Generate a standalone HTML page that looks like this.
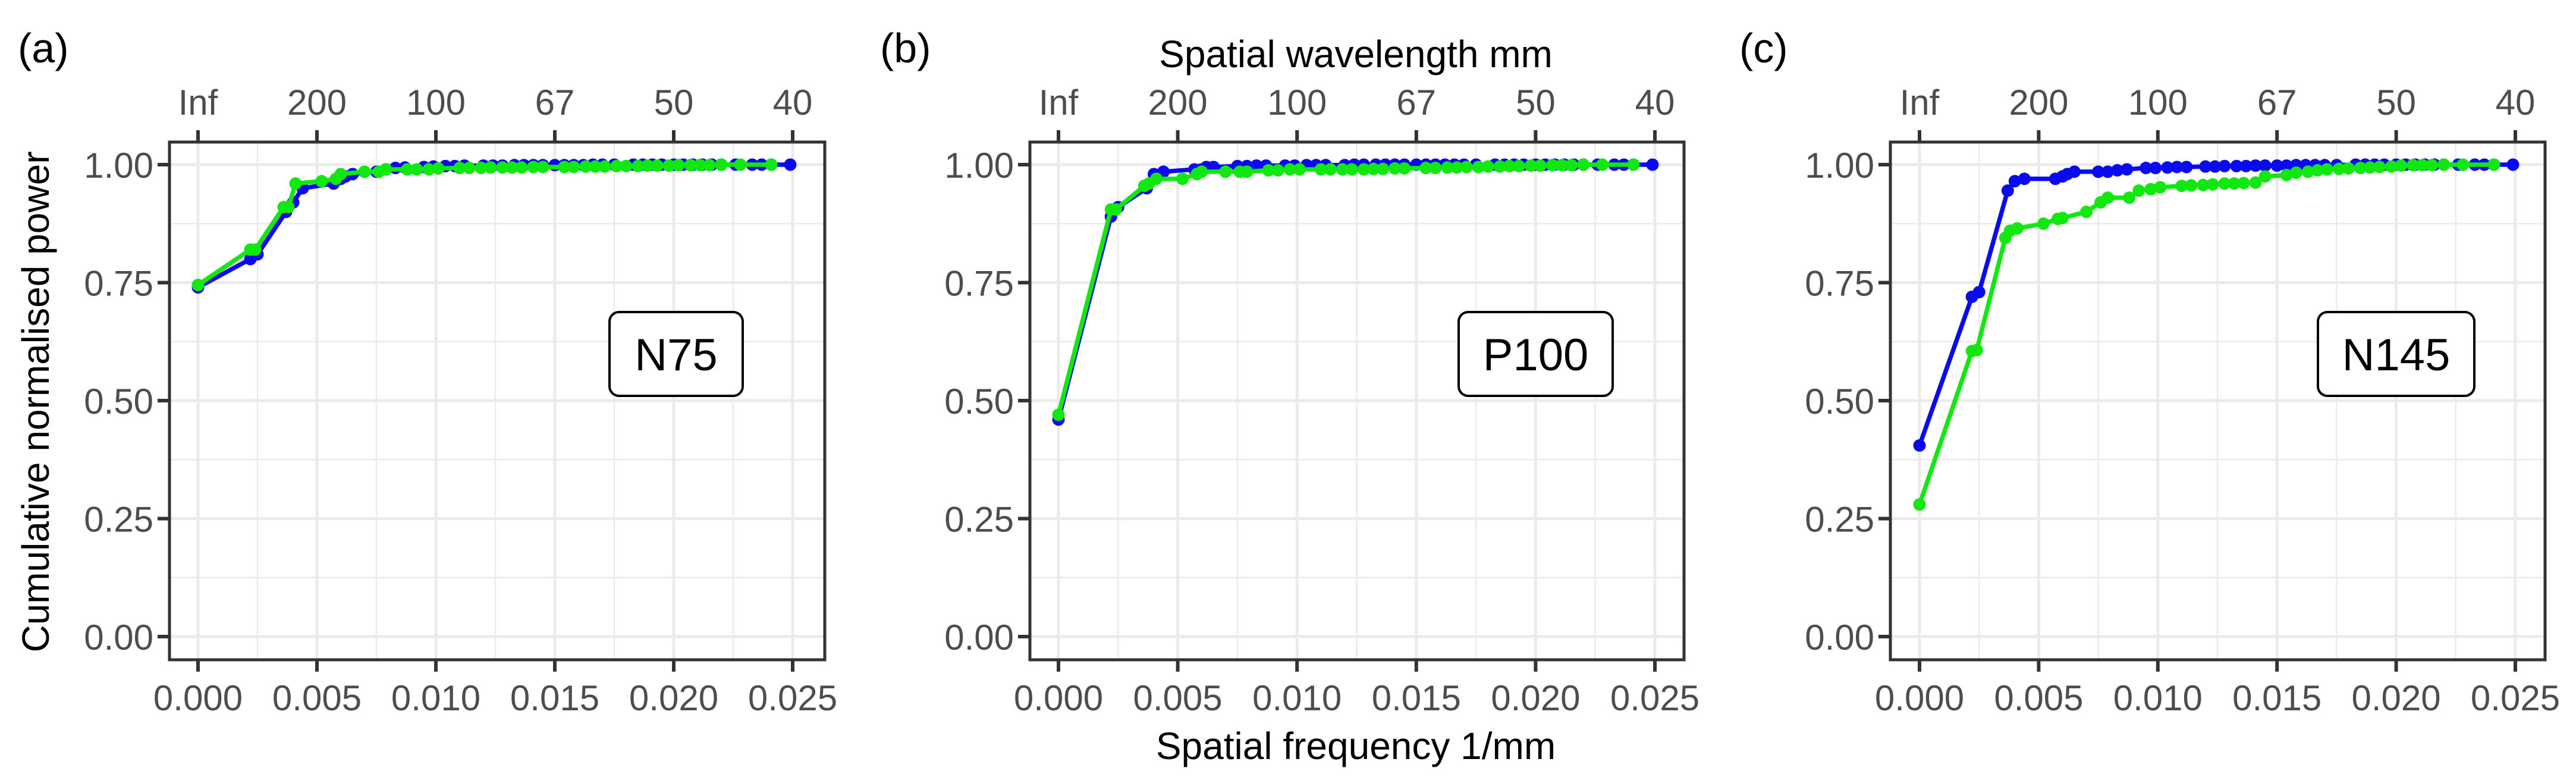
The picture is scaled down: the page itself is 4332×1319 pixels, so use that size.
<!DOCTYPE html>
<html><head><meta charset="utf-8"><style>
html,body{margin:0;padding:0;background:#fff;}
svg{display:block;font-family:"Liberation Sans",Arial,sans-serif;}
</style></head><body>
<svg id="fig" width="4332" height="1319" viewBox="0 0 4332 1319" xmlns="http://www.w3.org/2000/svg">
<text x="30" y="105" font-size="70" fill="#000">(a)</text>
<text x="1480" y="105" font-size="70" fill="#000">(b)</text>
<text x="2925" y="105" font-size="70" fill="#000">(c)</text>
<text x="2280" y="113" font-size="64" text-anchor="middle" fill="#000">Spatial wavelength mm</text>
<text x="2280" y="1277" font-size="64" text-anchor="middle" fill="#000">Spatial frequency 1/mm</text>
<text transform="translate(82,676) rotate(-90)" font-size="64" text-anchor="middle" fill="#000">Cumulative normalised power</text>
</svg>
<script>
const freqBlue=[0,0.0022,0.0025,0.0037,0.0040,0.0044,0.0057,0.0060,0.0062,0.0065,0.0075,0.0079,0.0083,0.0087,0.0095,0.0099,0.0104,0.0108,0.0112,0.0120,0.0124,0.0128,0.0133,0.0137,0.0141,0.0145,0.0150,0.0154,0.0158,0.0162,0.0166,0.0170,0.0175,0.0183,0.0187,0.0191,0.0195,0.0200,0.0204,0.0208,0.0212,0.0216,0.0220,0.0226,0.0233,0.0237,0.0241,0.0249];
const freqGreen=[0,0.0022,0.0024,0.0036,0.0038,0.0041,0.0052,0.0058,0.0060,0.0070,0.0076,0.0079,0.0088,0.0092,0.0097,0.0101,0.0110,0.0114,0.0119,0.0123,0.0128,0.0132,0.0136,0.0141,0.0145,0.0154,0.0158,0.0163,0.0167,0.0171,0.0176,0.0180,0.0185,0.0189,0.0193,0.0198,0.0202,0.0207,0.0211,0.0215,0.0220,0.0228,0.0241];
const blueA=[0.74,0.80,0.81,0.90,0.92,0.95,0.96,0.97,0.975,0.98,0.985,0.99,0.993,0.994,0.995,0.996,0.997,0.997,0.998,0.998,0.998,0.998,0.999,0.999,0.999,0.999,0.999,0.999,0.999,0.999,1,1,1,1,1,1,1,1,1,1,1,1,1,1,1,1,1,1];
const greenA=[0.745,0.82,0.82,0.91,0.91,0.96,0.965,0.97,0.98,0.985,0.985,0.99,0.99,0.99,0.99,0.992,0.993,0.993,0.993,0.994,0.994,0.994,0.994,0.995,0.995,0.995,0.995,0.996,0.996,0.996,0.997,0.997,0.997,0.998,0.998,0.998,0.999,0.999,0.999,0.999,1,1,1];
const blueB=[0.46,0.89,0.91,0.95,0.98,0.985,0.99,0.99,0.995,0.995,0.997,0.997,0.998,0.998,0.998,0.998,0.999,0.999,0.999,0.999,1,1,1,1,1,1,1,1,1,1,1,1,1,1,1,1,1,1,1,1,1,1,1,1,1,1,1,1];
const greenB=[0.47,0.905,0.905,0.955,0.96,0.97,0.97,0.98,0.985,0.985,0.985,0.985,0.988,0.988,0.99,0.99,0.99,0.99,0.99,0.99,0.99,0.991,0.991,0.992,0.992,0.993,0.993,0.994,0.994,0.995,0.995,0.996,0.996,0.997,0.997,0.998,0.998,0.999,0.999,0.999,1,1,1];
const blueC=[0.405,0.72,0.73,0.945,0.965,0.97,0.97,0.975,0.98,0.985,0.985,0.985,0.988,0.99,0.993,0.993,0.994,0.995,0.995,0.996,0.996,0.997,0.997,0.997,0.998,0.998,0.998,0.998,0.999,0.999,0.999,0.999,0.999,1,1,1,1,1,1,1,1,1,1,1,1,1,1,1];
const greenC=[0.28,0.605,0.607,0.845,0.86,0.865,0.875,0.885,0.887,0.90,0.92,0.93,0.93,0.945,0.948,0.952,0.955,0.956,0.957,0.958,0.96,0.96,0.961,0.962,0.975,0.978,0.983,0.985,0.988,0.99,0.991,0.992,0.993,0.994,0.995,0.996,0.998,0.999,0.999,0.999,1,1,1];
const xTicks=[0,0.005,0.01,0.015,0.02,0.025];
const xTickLabels=["0.000","0.005","0.010","0.015","0.020","0.025"];
const topTickLabels=["Inf","200","100","67","50","40"];
const yTicks=[0,0.25,0.5,0.75,1];
const yTickLabels=["0.00","0.25","0.50","0.75","1.00"];
const panelNames=["N75","P100","N145"];

const NS="http://www.w3.org/2000/svg";
const svg=document.getElementById('fig');
function mk(tag,attrs,parent){const e=document.createElementNS(NS,tag);for(const k in attrs)e.setAttribute(k,attrs[k]);(parent||svg).appendChild(e);return e;}

const panels=[
 {left:285,right:1387,x0:333,x1:1333,lbl:[1025,1249],blue:blueA,green:greenA,id:'a'},
 {left:1732,right:2832,x0:1780,x1:2783,lbl:[2453,2712],blue:blueB,green:greenB,id:'b'},
 {left:3179,right:4280,x0:3228,x1:4230,lbl:[3898,4161],blue:blueC,green:greenC,id:'c'}
];
const TOP=239,BOT=1110,Y1=277,Y0=1071;
function yS(v){return Y0+(Y1-Y0)*v;}

panels.forEach((p,pi)=>{
 const xS=v=>p.x0+(p.x1-p.x0)*v/0.025;
 const g=mk('g',{});
 
 
 for(let i=0;i<xTicks.length-1;i++){const v=(xTicks[i]+xTicks[i+1])/2;const l=mk('line',{x1:xS(v),x2:xS(v),y1:TOP,y2:BOT,stroke:'#ebebeb','stroke-width':2.5},g);
  
  }
 for(let i=0;i<yTicks.length-1;i++){const v=(yTicks[i]+yTicks[i+1])/2;const l=mk('line',{x1:p.left,x2:p.right,y1:yS(v),y2:yS(v),stroke:'#ebebeb','stroke-width':2.5},g);
  
  }
 xTicks.forEach((v,i)=>{
  const l=mk('line',{x1:xS(v),x2:xS(v),y1:TOP,y2:BOT,stroke:'#ebebeb','stroke-width':5},g);
  
  
  const tb=mk('line',{x1:xS(v),x2:xS(v),y1:BOT,y2:BOT+20,stroke:'#333','stroke-width':6},g);
  
  
  const tt=mk('line',{x1:xS(v),x2:xS(v),y1:TOP,y2:TOP-20,stroke:'#333','stroke-width':6},g);
  
  
  const t=mk('text',{x:xS(v),y:1195,'font-size':60,'text-anchor':'middle',fill:'#4d4d4d'},g);t.textContent=xTickLabels[i];
  
  
  const t2=mk('text',{x:xS(v),y:193,'font-size':60,'text-anchor':'middle',fill:'#4d4d4d'},g);t2.textContent=topTickLabels[i];
  
  
 });
 yTicks.forEach((v,i)=>{
  const l=mk('line',{x1:p.left,x2:p.right,y1:yS(v),y2:yS(v),stroke:'#ebebeb','stroke-width':5},g);
  
  
  const tk=mk('line',{x1:p.left-20,x2:p.left,y1:yS(v),y2:yS(v),stroke:'#333','stroke-width':6},g);
  
  
  const t=mk('text',{x:p.left-27,y:yS(v)+22,'font-size':60,'text-anchor':'end',fill:'#4d4d4d'},g);t.textContent=yTickLabels[i];
  
  
 });
 [['blue','#0a0af0',p.blue,freqBlue],['green','#10e810',p.green,freqGreen]].forEach(([nm,col,ys,xs])=>{
  const pts=ys.map((y,i)=>xS(xs[i])+','+yS(y)).join(' ');
  const pl=mk('polyline',{points:pts,fill:'none',stroke:col,'stroke-width':7.5,'stroke-linejoin':'round'},g);
  
  
  ys.forEach((y,i)=>{const c=mk('circle',{cx:xS(xs[i]),cy:yS(y),r:10.5,fill:col},g);
   
   });
 });
 const bx=mk('rect',{x:p.left,y:TOP,width:p.right-p.left,height:BOT-TOP,fill:'none',stroke:'#333','stroke-width':5},g);
 
 
 const lb=mk('rect',{x:p.lbl[0],y:525,width:p.lbl[1]-p.lbl[0],height:141,rx:16,fill:'#fff',stroke:'#000','stroke-width':4},g);
 
 
 const lt=mk('text',{x:(p.lbl[0]+p.lbl[1])/2,y:623,'font-size':76,'text-anchor':'middle',fill:'#000'},g);lt.textContent=panelNames[pi];
 
 
});
</script>
</body></html>
